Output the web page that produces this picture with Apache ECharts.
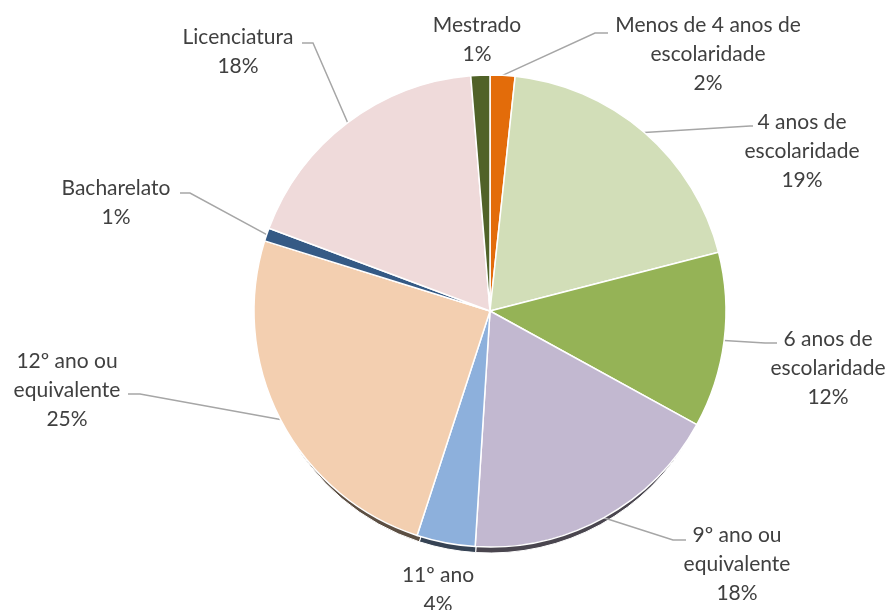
<!DOCTYPE html>
<html>
<head>
<meta charset="utf-8">
<script src="https://cdn.jsdelivr.net/npm/echarts@6/dist/echarts.min.js"></script>
<style>
  html, body { margin: 0; padding: 0; background: #fff; }
  #chart { width: 894px; height: 610px; }
</style>
</head>
<body>
<div id="chart"></div>
<script>
  // categorias e percentagens (sentido horário a partir das 12h)
  const categories = [
    'Menos de 4 anos de\nescolaridade',
    '4 anos de\nescolaridade',
    '6 anos de\nescolaridade',
    '9º ano ou\nequivalente',
    '11º ano',
    '12º ano ou\nequivalente',
    'Bacharelato',
    'Licenciatura',
    'Mestrado'
  ];
  const values = [1.7, 19.3, 12.0, 18.0, 4.0, 24.8, 0.9, 18.0, 1.3];
  const colors = ['#E36C0A', '#D2DEB8', '#95B356', '#C2B8D0', '#8DB0DC', '#F3CFB0', '#355A85', '#EFDADA', '#506228'];

  // posição das etiquetas: [x, y, cotoveloX, cotoveloY, fimX] (null = sem linha)
  const labelSpots = [
    [708, 54, 595, 33, 608],
    [802, 151, 750, 126, 753],
    [828, 368, 765, 343, 777],
    [737, 564, 673, 540, 686],
    [438, 590, null],
    [67, 390, 140, 394, 128],
    [116, 203, 190, 193, 180],
    [238, 52, 313, 43, 302],
    [477, 40, null]
  ];

  const darken = (hex, f) => {
    const n = parseInt(hex.slice(1), 16);
    const r = Math.round(((n >> 16) & 255) * f);
    const g = Math.round(((n >> 8) & 255) * f);
    const b = Math.round((n & 255) * f);
    return `rgb(${r},${g},${b})`;
  };

  const chart = echarts.init(document.getElementById('chart'));

  const pieData = categories.map((name, i) => ({
    name,
    value: values[i],
    itemStyle: { color: colors[i] }
  }));
  const shadowData = categories.map((name, i) => ({
    name,
    value: values[i],
    itemStyle: { color: darken(colors[i], 0.38) }
  }));

  chart.setOption({
    animation: false,
    series: [
      {
        // lado do disco (efeito 3D por baixo)
        type: 'pie',
        silent: true,
        center: [490, 324],
        radius: 229,
        startAngle: 90,
        clockwise: true,
        itemStyle: { borderColor: '#fff', borderWidth: 1 },
        label: { show: false },
        labelLine: { show: false },
        data: shadowData,
        z: 1
      },
      {
        type: 'pie',
        center: [490, 311],
        radius: 236,
        startAngle: 90,
        clockwise: true,
        avoidLabelOverlap: false,
        itemStyle: { borderColor: '#fff', borderWidth: 1.5 },
        label: {
          show: true,
          position: 'outside',
          color: '#404040',
          fontFamily: 'Lato',
          fontSize: 21,
          lineHeight: 29,
          align: 'center',
          formatter: (p) => `${p.name}\n${Math.round(p.percent)}%`
        },
        labelLine: {
          show: true,
          lineStyle: { color: '#A6A6A6', width: 1.5 }
        },
        labelLayout: (params) => {
          const s = labelSpots[params.dataIndex];
          const out = { x: s[0], y: s[1], align: 'center', verticalAlign: 'middle' };
          const start = params.labelLinePoints ? params.labelLinePoints[0] : null;
          if (s[2] === null || !start) {
            out.labelLinePoints = [[s[0], s[1]], [s[0], s[1]], [s[0], s[1]]];
          } else {
            out.labelLinePoints = [start, [s[2], s[3]], [s[4], s[3]]];
          }
          return out;
        },
        data: pieData,
        z: 2
      }
    ]
  });
</script>
</body>
</html>
